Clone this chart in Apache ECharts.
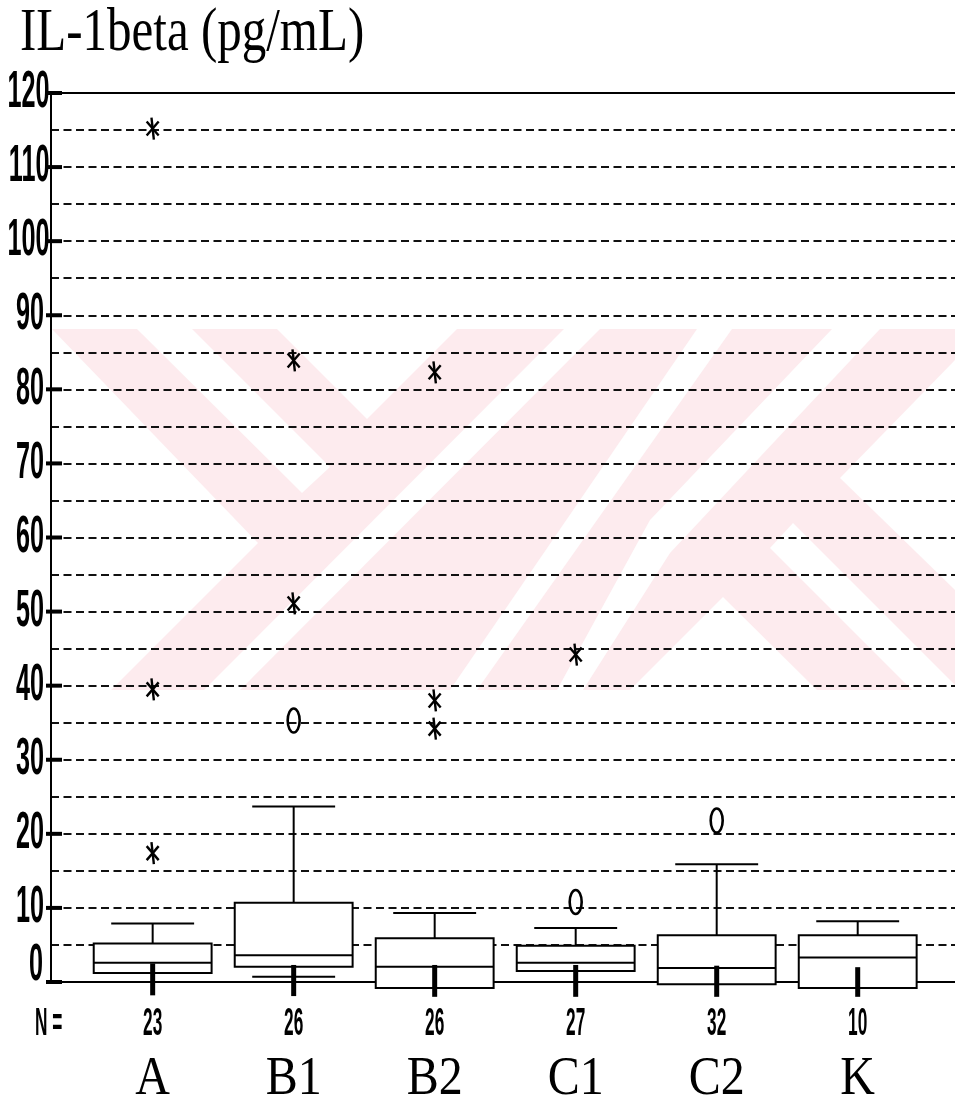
<!DOCTYPE html>
<html><head><meta charset="utf-8">
<script src="https://cdn.jsdelivr.net/npm/echarts@6/dist/echarts.min.js"></script>
<style>html,body{margin:0;padding:0;background:#fff}#c{width:955px;height:1108px}</style>
</head><body><div id="c"></div>
<script>
// ---------------- data ----------------
const categories   = ['A', 'B1', 'B2', 'C1', 'C2', 'K'];
const nCounts      = [23, 26, 26, 27, 32, 10];
const q1           = [1.2, 2.05, -0.8, 1.5, -0.3, -0.8];
const median       = [2.6, 3.6, 2.05, 2.6, 1.9, 3.3];
const q3           = [5.2, 10.7, 5.9, 4.9, 6.3, 6.3];
const upperWhisker = [7.9, 23.7, 9.3, 7.3, 15.9, 8.2];
const lowerWhisker = [null, 0.7, null, null, null, null];
const stubTop      = [2.5, 2.3, 2.3, 2.3, 2.2, 2.0];
const stubBottom   = [-1.8, -1.9, -2.0, -2.0, -2.0, -2.0];
// outliers "o": [categoryIndex, value]
const outliers = [[1, 35.3], [3, 10.8], [4, 21.8]];
// extremes "*": [categoryIndex, value]
const extremes = [[0, 17.4], [0, 39.5], [0, 115.2], [1, 51.1], [1, 83.9],
                  [2, 34.2], [2, 38.0], [2, 82.3], [3, 44.2]];
const yTickLabels = [0, 10, 20, 30, 40, 50, 60, 70, 80, 90, 100, 110, 120];
const titleText = 'IL-1beta (pg/mL)';
const nLabel = 'N =';

// ---------------- layout / style ----------------
const X_MIN = -0.721, X_MAX = 5.69;
const BOX_HALF = 0.418, CAP_HALF = 0.294;
const SANS = '"Liberation Sans", Arial, sans-serif';
const SERIF = '"Liberation Serif", "Times New Roman", serif';

function txt(x, y, text, o) {
  return {
    type: 'text', x: x, y: y, scaleX: o.sx || 1, scaleY: o.sy || 1,
    style: {
      text: String(text), fill: '#000',
      fontSize: o.size, fontFamily: o.family, fontWeight: o.weight || 'normal',
      align: o.align || 'center', verticalAlign: o.va || 'middle',
      textAlign: o.align || 'center', textVerticalAlign: o.va || 'middle'
    }
  };
}
function ln(x1, y1, x2, y2, w) {
  return { type: 'line', shape: { x1: x1, y1: y1, x2: x2, y2: y2 },
           style: { stroke: '#000', lineWidth: w || 2, lineCap: 'butt' } };
}

function renderBox(params, api) {
  const i = params.dataIndex;
  const xc = api.coord([i, 0])[0];
  const xl = api.coord([i - BOX_HALF, 0])[0], xr = api.coord([i + BOX_HALF, 0])[0];
  const cl = api.coord([i - CAP_HALF, 0])[0], cr = api.coord([i + CAP_HALF, 0])[0];
  const y = v => api.coord([i, v])[1];
  const ch = [
    ln(xc, y(q3[i]), xc, y(upperWhisker[i])),
    ln(cl, y(upperWhisker[i]), cr, y(upperWhisker[i])),
    { type: 'rect', shape: { x: xl, y: y(q3[i]), width: xr - xl, height: y(q1[i]) - y(q3[i]) },
      style: { fill: '#fff', stroke: '#000', lineWidth: 2 } },
    ln(xl, y(median[i]), xr, y(median[i]))
  ];
  if (lowerWhisker[i] != null) {
    ch.push(ln(xc, y(q1[i]), xc, y(lowerWhisker[i])));
    ch.push(ln(cl, y(lowerWhisker[i]), cr, y(lowerWhisker[i])));
  }
  ch.push(ln(xc, y(stubTop[i]), xc, y(stubBottom[i]), 5));
  return { type: 'group', children: ch };
}

function renderStar(params, api) {
  const p = api.coord([api.value(0), api.value(1)]);
  const x = p[0], y = p[1];
  return { type: 'group', children: [
    ln(x - 1.2, y - 11, x + 1.2, y + 11, 2.4),
    ln(x - 6, y - 7, x + 6, y + 7, 2.4),
    ln(x + 6, y - 7, x - 6, y + 7, 2.4)
  ]};
}
function renderCircle(params, api) {
  const p = api.coord([api.value(0), api.value(1)]);
  return { type: 'ellipse', shape: { cx: p[0], cy: p[1], rx: 6, ry: 12 },
           style: { fill: 'none', stroke: '#000', lineWidth: 2.6 } };
}
function renderYLabel(params, api) {
  const v = api.value(1);
  const p = api.coord([X_MIN, v]);
  const s = String(v);
  const ch = [ln(p[0] - 5, p[1], p[0] + 11, p[1], 4)];
  const o = { size: 36, family: SANS, weight: 'bold', sx: 0.70, sy: 1.43, align: 'right', va: 'middle' };
  if (v === 0) {
    ch.push(txt(p[0] - 8, p[1] - 16, s, o));
  } else {
    const dx = s.length >= 3 ? 1.5 : 7;
    ch.push(txt(p[0] - dx, p[1], s, o));
  }
  return { type: 'group', children: ch };
}
function renderCatLabel(params, api) {
  const i = params.dataIndex;
  const xc = api.coord([i, 0])[0];
  return { type: 'group', children: [
    txt(xc, 1024, nCounts[i], { size: 24, family: SANS, weight: 'bold', sx: 0.72, sy: 1.63 }),
    txt(xc, 1080, categories[i], { size: 48, family: SERIF, sx: 1, sy: 1.13 })
  ]};
}

// watermark (decorative background)
const PINK = '#fdebee';
const wmWhite = [
  [[47,329],[52,329],[258,543],[111,690],[47,690]],
  [[137,329],[192,329],[330,467],[302,493]],
  [[277,329],[457,329],[367,419]],
  [[564,329],[600,329],[240,690],[204,690]],
  [[697,329],[732,329],[477,690],[450,690]],
  [[832,329],[880,329],[670,553],[583,690],[557,690],[650,520]],
  [[955,360],[840,478],[955,590]],
  [[793,523],[955,685],[955,690],[912,690],[770,548]],
  [[723,597],[817,690],[630,690]]
];
const graphicEls = [
  { type: 'rect', z: -10, silent: true, shape: { x: 47, y: 329, width: 908, height: 361 }, style: { fill: PINK } }
].concat(wmWhite.map(pts => ({ type: 'polygon', z: -9, silent: true, shape: { points: pts }, style: { fill: '#fff' } })));
graphicEls.push(Object.assign(txt(20, 34, titleText, { size: 49, family: SERIF, sy: 1.27, align: 'left', va: 'middle' }), { z: 10 }));
graphicEls.push(Object.assign(txt(35, 1024, nLabel, { size: 24, family: SANS, weight: 'bold', sx: 0.72, sy: 1.63, align: 'left', va: 'middle' }), { z: 10 }));

const chart = echarts.init(document.getElementById('c'), null, { renderer: 'canvas' });
chart.setOption({
  animation: false,
  backgroundColor: '#fff',
  grid: { left: 51, right: 0, top: 93, bottom: 126, containLabel: false },
  xAxis: [
    { type: 'value', min: X_MIN, max: X_MAX, position: 'bottom',
      axisLine: { show: true, onZero: false, lineStyle: { color: '#000', width: 2 } },
      axisTick: { show: false }, axisLabel: { show: false }, splitLine: { show: false } },
    { type: 'value', min: X_MIN, max: X_MAX, position: 'top',
      axisLine: { show: true, onZero: false, lineStyle: { color: '#000', width: 2 } },
      axisTick: { show: false }, axisLabel: { show: false }, splitLine: { show: false } }
  ],
  yAxis: {
    type: 'value', min: 0, max: 120, interval: 5, position: 'left',
    axisLine: { show: true, onZero: false, lineStyle: { color: '#000', width: 2 } },
    axisTick: { show: false }, axisLabel: { show: false },
    splitLine: { show: true, lineStyle: { color: '#111', width: 2, type: [8, 4.5] } }
  },
  graphic: { elements: graphicEls },
  series: [
    { type: 'custom', name: 'box', xAxisIndex: 0, renderItem: renderBox,
      data: categories.map((c, i) => [i, median[i]]), encode: { x: 0, y: 1 }, z: 3, silent: true },
    { type: 'custom', name: 'outliers', xAxisIndex: 0, renderItem: renderCircle,
      data: outliers, encode: { x: 0, y: 1 }, z: 4, silent: true },
    { type: 'custom', name: 'extremes', xAxisIndex: 0, renderItem: renderStar,
      data: extremes, encode: { x: 0, y: 1 }, z: 4, silent: true },
    { type: 'custom', name: 'yLabels', xAxisIndex: 0, renderItem: renderYLabel,
      data: yTickLabels.map(v => [X_MIN, v]), encode: { x: 0, y: 1 }, z: 5, silent: true },
    { type: 'custom', name: 'catLabels', xAxisIndex: 0, renderItem: renderCatLabel,
      data: categories.map((c, i) => [i, 0]), encode: { x: 0, y: 1 }, z: 5, silent: true }
  ]
});
</script>
</body></html>
